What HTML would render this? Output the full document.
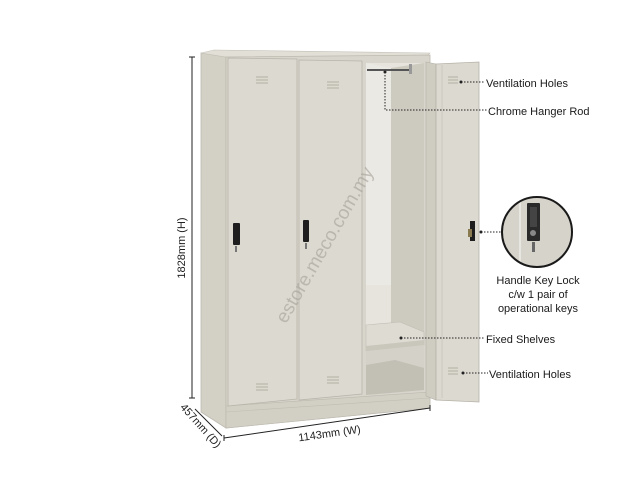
<!DOCTYPE html>
<html><head><style>
html,body{margin:0;padding:0;background:#fff;}
svg{display:block;font-family:"Liberation Sans",sans-serif;}
</style></head><body>
<svg width="640" height="480" viewBox="0 0 640 480" xmlns="http://www.w3.org/2000/svg">
<polygon points="201,53 226,57 226,428 201,412" fill="#d3d0c6" stroke="#bdbab0" stroke-width="0.8"/>
<polygon points="201,53 214,50 430,53 426,57 226,57" fill="#e2dfd7" stroke="#c4c1b8" stroke-width="0.6"/>
<polygon points="226,57 430,55 430,408 226,428" fill="#d8d5cc" stroke="#bdbab0" stroke-width="0.8"/>
<polygon points="226,406 430,392 430,408 226,428" fill="#d2cfc5" stroke="#bcb9af" stroke-width="0.6"/>
<line x1="226" y1="412" x2="430" y2="398" stroke="#c0bdb3" stroke-width="0.6"/>
<polygon points="228,58 297,59 297,399 228,406" fill="#dcd9d0" stroke="#b8b5ab" stroke-width="0.8"/>
<polygon points="299,60 362,61 362,394 299,400" fill="#dcd9d0" stroke="#b8b5ab" stroke-width="0.8"/>
<polygon points="366,63 424,63 424,390 366,395" fill="#e6e4dd"/>
<polygon points="391,68 424,63 424,390 391,380" fill="#cdcac0"/>
<polygon points="366,63 391,68 391,285 366,285" fill="#ebe9e3"/>
<polygon points="366,325 400,322 424,332 424,345 366,351" fill="#dedbd3" stroke="#c0bdb4" stroke-width="0.6"/>
<polygon points="366,346 424,340 424,345 366,351" fill="#c9c6bc"/>
<polygon points="366,351 424,345 424,390 366,395" fill="#d4d1c8"/>
<polygon points="366,365 395,360 424,368 424,390 366,395" fill="#c2bfb5"/>
<line x1="367" y1="70" x2="412" y2="70" stroke="#555" stroke-width="2"/>
<rect x="409" y="64" width="3" height="10" fill="#999"/>
<polygon points="426,62 436,64 436,400 426,396" fill="#cfccc2" stroke="#b5b2a8" stroke-width="0.6"/>
<polygon points="436,64 479,62 479,402 436,400" fill="#dcd9d0" stroke="#b5b2a8" stroke-width="0.8"/>
<line x1="442" y1="65" x2="442" y2="398" stroke="#c8c5bc" stroke-width="0.8"/>
<g stroke="#b2afa5" stroke-width="1">
<path d="M256,77h12M256,80h12M256,83h12"/>
<path d="M327,82h12M327,85h12M327,88h12"/>
<path d="M256,384h12M256,387h12M256,390h12"/>
<path d="M327,377h12M327,380h12M327,383h12"/>
<path d="M448,77h10M448,80h10M448,83h10"/>
<path d="M448,368h10M448,371h10M448,374h10"/>
</g>
<rect x="233" y="223" width="7" height="22" fill="#1e1e1e" rx="1"/>
<rect x="235" y="246" width="2" height="6" fill="#777"/>
<rect x="303" y="220" width="6" height="22" fill="#1e1e1e" rx="1"/>
<rect x="305" y="243" width="2" height="6" fill="#777"/>
<rect x="470" y="221" width="5" height="20" fill="#1e1e1e"/>
<rect x="468" y="229" width="4" height="8" fill="#8a7a50"/>
<text x="330" y="248" font-size="19" fill="#a3a198" fill-opacity="0.6" text-anchor="middle" transform="rotate(-60 330 248)">estore.meco.com.my</text>
<g stroke="#222" stroke-width="1">
<line x1="192" y1="57" x2="192" y2="398"/>
<line x1="189" y1="57" x2="195" y2="57"/>
<line x1="189" y1="398" x2="195" y2="398"/>
<line x1="224" y1="438" x2="430" y2="408"/>
<line x1="224" y1="435" x2="224" y2="441"/>
<line x1="430" y1="405" x2="430" y2="411"/>
<line x1="195" y1="409" x2="222" y2="436"/>
</g>
<text x="0" y="0" font-size="11" fill="#222" text-anchor="middle" transform="translate(185,248) rotate(-90)">1828mm (H)</text>
<text x="0" y="0" font-size="11" fill="#222" text-anchor="middle" transform="translate(330,437) rotate(-8)">1143mm (W)</text>
<text x="0" y="0" font-size="11" fill="#222" text-anchor="middle" transform="translate(198,428) rotate(48)">457mm (D)</text>
<g stroke="#222" stroke-width="1" stroke-dasharray="1.5,1.5" fill="none">
<line x1="461" y1="82" x2="485" y2="82"/>
<polyline points="385,72 385,110 487,110"/>
<line x1="481" y1="232" x2="502" y2="232"/>
<line x1="401" y1="338" x2="485" y2="338"/>
<line x1="463" y1="373" x2="488" y2="373"/>
</g>
<g fill="#222">
<circle cx="461" cy="82" r="1.5"/><circle cx="385" cy="72" r="1.5"/><circle cx="481" cy="232" r="1.5"/>
<circle cx="401" cy="338" r="1.5"/><circle cx="463" cy="373" r="1.5"/>
</g>
<defs><clipPath id="c"><circle cx="537" cy="232" r="35"/></clipPath></defs>
<g clip-path="url(#c)">
<rect x="500" y="195" width="75" height="75" fill="#d6d3ca"/>
<line x1="520" y1="195" x2="520" y2="270" stroke="#e8e6e0" stroke-width="2"/>
<rect x="527" y="203" width="13" height="38" fill="#2a2a2a" rx="1"/>
<rect x="530" y="207" width="7" height="20" fill="#444"/>
<circle cx="533" cy="233" r="3" fill="#888"/>
<rect x="532" y="242" width="3" height="10" fill="#666"/>
</g>
<circle cx="537" cy="232" r="35" fill="none" stroke="#1a1a1a" stroke-width="2"/>
<g font-size="11" fill="#1a1a1a">
<text x="486" y="87">Ventilation Holes</text>
<text x="488" y="115">Chrome Hanger Rod</text>
<text x="538" y="284" text-anchor="middle">Handle Key Lock</text>
<text x="538" y="298" text-anchor="middle">c/w 1 pair of</text>
<text x="538" y="312" text-anchor="middle">operational keys</text>
<text x="486" y="343">Fixed Shelves</text>
<text x="489" y="378">Ventilation Holes</text>
</g>
</svg>
</body></html>
